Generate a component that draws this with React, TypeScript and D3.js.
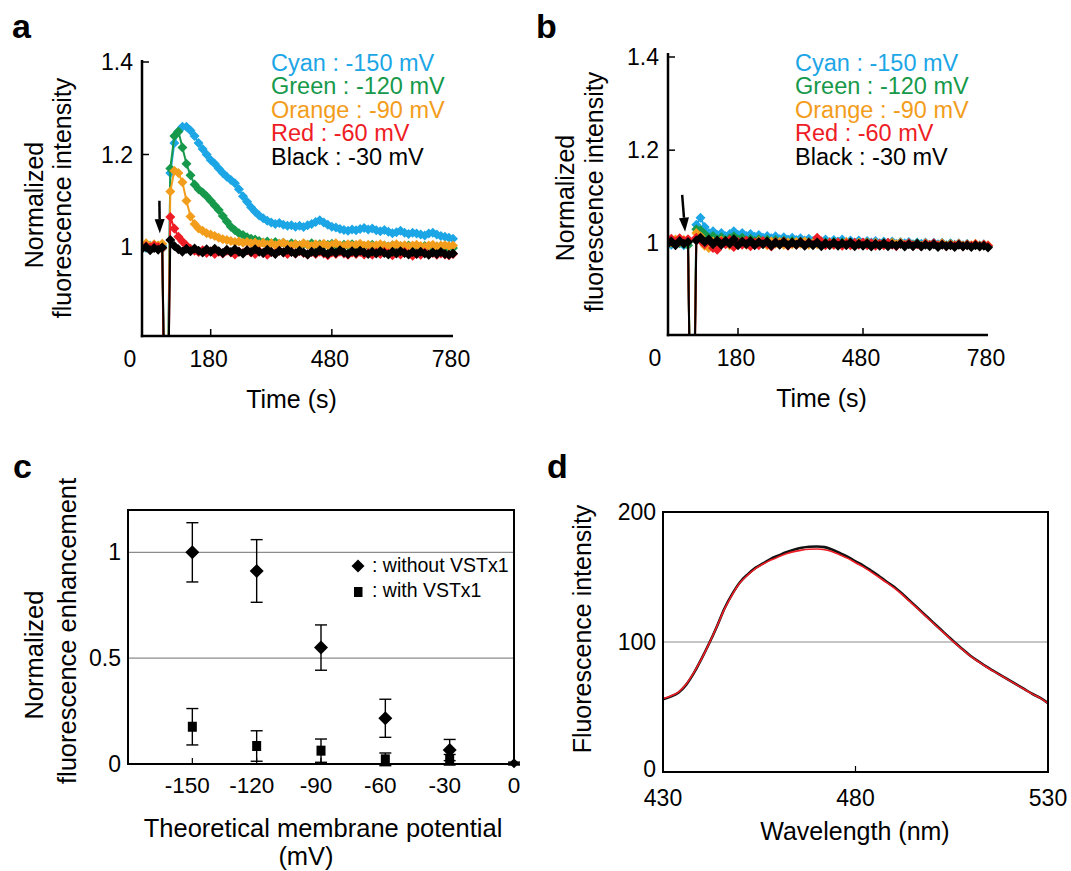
import React from "react";
import * as d3 from "d3";

const FONT = "'Liberation Sans', Arial, Helvetica, sans-serif";

// ---- panels a / b : time courses (s), normalized intensity ----
const times = [
  10, 20, 30, 40, 50, 60, 70, 80, 90, 100,
  110, 120, 130, 140, 150, 160, 170, 180, 190, 200,
  210, 220, 230, 240, 250, 260, 270, 280, 290, 300,
  310, 320, 330, 340, 350, 360, 370, 380, 390, 400,
  410, 420, 430, 440, 450, 460, 470, 480, 490, 500,
  510, 520, 530, 540, 550, 560, 570, 580, 590, 600,
  610, 620, 630, 640, 650, 660, 670, 680, 690, 700,
  710, 720, 730, 740, 750, 760, 770, 780,
];
const timeTicks = [0, 180, 480, 780];
const intensityTicks = [1, 1.2, 1.4];
const traceNames = ["Cyan : -150 mV", "Green : -120 mV", "Orange : -90 mV", "Red : -60 mV", "Black : -30 mV"];
const traceColors = ["#1ca6e6", "#16994a", "#f39d1c", "#ee1d25", "#000000"];

const cyanA = [
  1.0, 0.998, 1.003, 1.001, 0.997, 1.002, 0.4, 1.16, 1.225, 1.25,
  1.26, 1.26, 1.252, 1.24, 1.225, 1.212, 1.2, 1.188, 1.18, 1.17,
  1.16, 1.152, 1.145, 1.138, 1.125, 1.11, 1.098, 1.086, 1.076, 1.068,
  1.062, 1.057, 1.053, 1.05, 1.052, 1.048, 1.046, 1.047, 1.044, 1.046,
  1.043, 1.047, 1.05, 1.054, 1.058, 1.053, 1.048, 1.044, 1.042, 1.039,
  1.037, 1.035, 1.038, 1.036, 1.039, 1.041, 1.038, 1.04, 1.036, 1.034,
  1.037, 1.033, 1.03, 1.032, 1.035, 1.031, 1.028, 1.031, 1.029, 1.027,
  1.025, 1.029, 1.031, 1.027, 1.024, 1.022, 1.02, 1.018,
];
const greenA = [
  0.998, 1.001, 0.996, 1.0, 1.002, 0.997, 0.35, 1.17, 1.24, 1.25,
  1.215, 1.18, 1.155, 1.135, 1.125, 1.118, 1.11, 1.1, 1.09, 1.08,
  1.067, 1.055, 1.044, 1.036, 1.03, 1.026, 1.021, 1.018, 1.016, 1.013,
  1.01, 1.012, 1.008, 1.011, 1.007, 1.009, 1.005, 1.008, 1.006, 1.004,
  1.007, 1.005, 1.008, 1.004, 1.006, 1.003, 1.005, 1.007, 1.004, 1.002,
  1.005, 1.003, 1.006, 1.002, 1.004, 1.001, 1.003, 1.005, 1.002, 1.0,
  1.003, 1.001, 1.004, 0.999, 1.002, 1.0, 1.003, 0.999, 1.001, 0.998,
  1.002, 1.0, 0.997, 1.001, 0.999, 0.998, 1.0, 0.998,
];
const orangeA = [
  1.004, 1.008, 1.002, 1.006, 1.003, 1.007, 0.38, 1.12, 1.165, 1.16,
  1.14, 1.1, 1.066, 1.05, 1.04, 1.035, 1.03, 1.027, 1.024, 1.02,
  1.017, 1.015, 1.013, 1.011, 1.012, 1.009, 1.011, 1.008, 1.01, 1.006,
  1.009, 1.005, 1.008, 1.004, 1.007, 1.009, 1.005, 1.003, 1.006, 1.004,
  1.008, 1.005, 1.002, 1.006, 1.004, 1.007, 1.003, 1.005, 1.008, 1.004,
  1.002, 1.006, 1.003, 1.005, 1.007, 1.003, 1.005, 1.002, 1.004, 1.006,
  1.003, 1.001, 1.004, 1.006, 1.002, 1.004, 1.001, 1.003, 1.005, 1.002,
  1.0, 1.003, 1.005, 1.001, 1.003, 1.004, 1.002, 1.003,
];
const redA = [
  0.998, 1.002, 0.999, 1.003, 1.0, 0.998, 0.3, 1.065, 1.04, 1.022,
  1.012, 1.003, 0.996, 0.992, 0.989, 0.993, 0.987, 0.991, 0.985, 0.99,
  0.986, 0.992, 0.988, 0.984, 0.99, 0.987, 0.993, 0.988, 0.985, 0.991,
  0.987, 0.983, 0.989, 0.986, 0.992, 0.988, 0.985, 0.99, 0.986, 0.991,
  0.987, 0.984, 0.989, 0.985, 0.99, 0.986, 0.982, 0.988, 0.985, 0.99,
  0.986, 0.983, 0.988, 0.985, 0.989, 0.984, 0.987, 0.983, 0.988, 0.985,
  0.99, 0.986, 0.982, 0.987, 0.984, 0.989, 0.985, 0.981, 0.986, 0.983,
  0.988, 0.984, 0.987, 0.983, 0.986, 0.984, 0.982, 0.985,
];
const blackA = [
  0.996, 1.0, 0.993, 0.998, 0.994, 0.999, 0.42, 1.015, 1.002, 0.995,
  0.99, 0.996, 0.991, 0.997, 0.992, 0.988, 0.995, 0.99, 0.996, 0.991,
  0.987, 0.994, 0.989, 0.995, 0.99, 0.986, 0.993, 0.989, 0.995, 0.99,
  0.987, 0.994, 0.989, 0.985, 0.992, 0.988, 0.994, 0.989, 0.986, 0.992,
  0.988, 0.984, 0.99, 0.987, 0.993, 0.988, 0.985, 0.991, 0.987, 0.993,
  0.988, 0.985, 0.991, 0.987, 0.992, 0.988, 0.985, 0.99, 0.986, 0.991,
  0.987, 0.984, 0.99, 0.986, 0.991, 0.987, 0.984, 0.989, 0.985, 0.99,
  0.986, 0.983, 0.988, 0.985, 0.989, 0.985, 0.983, 0.986,
];

const cyanB = [
  1.0, 0.997, 1.004, 1.0, 0.996, 1.003, 0.35, 1.04, 1.055, 1.035,
  1.022, 1.026, 1.018, 1.022, 1.015, 1.02, 1.026, 1.018, 1.022, 1.016,
  1.02, 1.014, 1.018, 1.012, 1.016, 1.011, 1.015, 1.009, 1.013, 1.008,
  1.012, 1.007, 1.011, 1.006, 1.01, 1.005, 1.009, 1.004, 1.008, 1.003,
  1.007, 1.004, 1.008, 1.003, 1.006, 1.002, 1.006, 1.001, 1.005, 1.002,
  1.005, 1.0, 1.004, 1.001, 1.004, 0.999, 1.003, 1.0, 1.003, 0.998,
  1.002, 0.999, 1.002, 0.997, 1.001, 0.998, 1.001, 0.996, 1.0, 0.997,
  1.0, 0.996, 0.999, 0.995, 0.998, 0.996, 0.998, 0.995,
];
const greenB = [
  0.998, 1.002, 0.997, 1.001, 0.999, 0.996, 0.38, 1.03, 1.028, 1.02,
  1.012, 1.016, 1.009, 1.013, 1.007, 1.011, 1.015, 1.008, 1.012, 1.006,
  1.01, 1.005, 1.009, 1.004, 1.008, 1.003, 1.007, 1.002, 1.006, 1.001,
  1.005, 1.0, 1.004, 0.999, 1.003, 1.0, 1.004, 0.998, 1.002, 0.999,
  1.003, 0.998, 1.002, 0.999, 1.001, 0.997, 1.001, 0.998, 1.002, 0.997,
  1.0, 0.996, 1.0, 0.997, 1.001, 0.996, 0.999, 0.995, 0.999, 0.996,
  1.0, 0.995, 0.999, 0.996, 0.998, 0.994, 0.998, 0.995, 0.999, 0.994,
  0.998, 0.995, 0.997, 0.994, 0.997, 0.995, 0.996, 0.994,
];
const orangeB = [
  1.006, 1.002, 1.008, 1.003, 1.007, 1.004, 0.36, 1.022, 1.015, 0.995,
  0.99, 1.004, 0.998, 1.006, 1.0, 0.996, 1.005, 0.999, 1.004, 0.997,
  1.003, 0.998, 1.005, 1.0, 0.996, 1.004, 0.999, 1.003, 0.997, 1.002,
  0.998, 1.003, 0.999, 1.004, 0.997, 1.001, 0.998, 1.003, 0.999, 1.002,
  0.997, 1.001, 0.998, 1.003, 0.999, 0.996, 1.001, 0.998, 1.002, 0.997,
  1.001, 0.997, 1.0, 0.996, 1.001, 0.998, 1.002, 0.997, 1.0, 0.996,
  0.999, 0.995, 1.0, 0.997, 0.999, 0.996, 1.0, 0.995, 0.998, 0.996,
  0.999, 0.995, 0.998, 0.996, 0.999, 0.995, 0.997, 0.996,
];
const redB = [
  1.004, 1.01, 1.002, 1.011, 1.005, 1.009, 0.3, 1.012, 1.006, 0.998,
  1.006, 0.99, 0.986, 1.004, 0.998, 1.007, 0.992, 1.003, 0.997, 1.006,
  0.994, 1.002, 0.996, 1.005, 0.999, 0.993, 1.003, 0.998, 1.004, 0.995,
  1.001, 0.997, 1.003, 0.996, 1.002, 0.998, 1.012, 1.004, 0.996, 1.001,
  0.997, 1.002, 0.995, 1.0, 0.996, 1.001, 0.997, 1.002, 0.996, 1.0,
  0.995, 0.999, 0.996, 1.001, 0.997, 0.994, 0.999, 0.996, 1.0, 0.995,
  0.998, 0.994, 0.999, 0.996, 1.0, 0.995, 0.998, 0.994, 0.997, 0.995,
  0.998, 0.994, 0.997, 0.995, 0.998, 0.994, 0.997, 0.995,
];
const blackB = [
  0.998, 1.004, 0.996, 1.005, 0.999, 1.003, 0.32, 1.006, 1.012, 1.003,
  1.008, 0.998, 1.006, 0.997, 1.005, 0.999, 1.009, 0.996, 1.004, 0.998,
  1.005, 0.996, 1.003, 0.998, 1.004, 0.995, 1.002, 0.997, 1.003, 0.996,
  1.002, 0.997, 1.003, 0.995, 1.001, 0.996, 1.002, 0.994, 1.0, 0.996,
  1.001, 0.995, 1.0, 0.996, 1.002, 0.994, 0.999, 0.995, 1.0, 0.993,
  0.999, 0.995, 1.0, 0.994, 0.998, 0.995, 0.999, 0.993, 0.998, 0.994,
  0.999, 0.993, 0.997, 0.994, 0.998, 0.992, 0.997, 0.994, 0.996, 0.992,
  0.997, 0.993, 0.996, 0.992, 0.996, 0.993, 0.995, 0.991,
];

// ---- panel c ----
const potentials = [-150, -120, -90, -60, -30, 0];
const withoutMean = [1.0, 0.912, 0.55, 0.216, 0.066, 0.003];
const withoutErr = [0.14, 0.148, 0.107, 0.09, 0.05, 0.006];
const withMean = [0.176, 0.085, 0.063, 0.022, 0.02, 0.0];
const withErr = [0.086, 0.072, 0.055, 0.03, 0.025, 0.004];

// ---- panel d ----
const wavelengths = [
  430, 432, 434, 436, 438, 440, 442, 444, 446, 448,
  450, 452, 454, 456, 458, 460, 462, 464, 466, 468,
  470, 472, 474, 476, 478, 480, 482, 484, 486, 488,
  490, 492, 494, 496, 498, 500, 502, 504, 506, 508,
  510, 512, 514, 516, 518, 520, 522, 524, 526, 528, 530,
];
const spectrumBlack = [
  56, 58, 61, 67, 76, 87, 99, 112, 126, 137,
  146, 152, 157, 160.5, 164, 166.5, 169, 171, 172.5, 173.3,
  173.5, 173, 171, 168.3, 165.5, 162, 158.8, 155, 151, 146.5,
  142.5, 137.5, 132, 126.5, 121, 115.5, 110, 104.5, 99, 94,
  89, 85, 81, 77.5, 74, 70.5, 67, 63.5, 60, 57, 53,
];
const spectrumRed = [
  56.5, 58.5, 61.5, 67.5, 76.5, 87, 99, 112, 125.5, 136.5,
  145.5, 151.5, 156.5, 160, 163, 165.5, 167.8, 169.5, 170.7, 171.3,
  171.5, 171, 169.5, 167, 164.3, 161, 157.8, 154, 150, 145.8,
  141.7, 136.8, 131.4, 126, 120.5, 115, 109.6, 104.1, 98.7, 93.7,
  88.8, 84.7, 80.8, 77.2, 73.8, 70.3, 66.8, 63.3, 59.9, 56.8, 52.8,
];

const diamond = (r: number) => `M0,${-r}L${r},0L0,${r}L${-r},0Z`;

function TracePanel({ id, series, xRange, yRange, axisX, axisY, axisTop, axisEnd, arrow, legendX, legendY, titles }: any) {
  const x = d3.scaleLinear().domain([0, 780]).range(xRange);
  const y = d3.scaleLinear().domain([0.8, 1.4]).range(yRange);
  const line = d3
    .line<number>()
    .x((_, i) => x(times[i]))
    .y((d) => y(d));
  // arrow geometry
  const ax0 = x(arrow[0][0]);
  const ay0 = y(arrow[0][1]);
  const ax1 = x(arrow[1][0]);
  const ay1 = y(arrow[1][1]);
  const ang = Math.atan2(ay1 - ay0, ax1 - ax0);
  const hx = ax1 - 14 * Math.cos(ang);
  const hy = ay1 - 14 * Math.sin(ang);
  const px = -Math.sin(ang) * 5;
  const py = Math.cos(ang) * 5;
  return (
    <g>
      <defs>
        <clipPath id={id}>
          <rect x={axisX} y={axisTop - 20} width={axisEnd - axisX + 20} height={axisY - axisTop + 20} />
        </clipPath>
      </defs>
      <g clipPath={`url(#${id})`}>
        {series.map((vals: number[], k: number) => (
          <g key={k}>
            <path d={line(vals) as string} fill="none" stroke={traceColors[k]} strokeWidth={2} />
            {vals.map((v, i) =>
              v < 0.8 ? null : (
                <path key={i} d={diamond(5)} transform={`translate(${x(times[i])},${y(v)})`} fill={traceColors[k]} />
              )
            )}
          </g>
        ))}
      </g>
      {/* arrow */}
      <line x1={ax0} y1={ay0} x2={hx} y2={hy} stroke="#000" strokeWidth={2.5} />
      <path d={`M${ax1},${ay1}L${hx + px},${hy + py}L${hx - px},${hy - py}Z`} fill="#000" />
      {/* axes */}
      <line x1={axisX} y1={axisTop} x2={axisX} y2={axisY + 1.2} stroke="#000" strokeWidth={2.5} />
      <line x1={axisX - 1.2} y1={axisY} x2={axisEnd} y2={axisY} stroke="#000" strokeWidth={2.5} />
      {intensityTicks.map((t) => (
        <g key={t}>
          <line x1={axisX} x2={axisX + 7} y1={y(t)} y2={y(t)} stroke="#000" strokeWidth={1.5} />
          <text x={axisX - 9} y={y(t)} textAnchor="end" dominantBaseline="central" fontSize={23}>
            {t === 1 ? "1" : t.toFixed(1)}
          </text>
        </g>
      ))}
      {timeTicks.map((t) => (
        <g key={t}>
          {t > 0 && t < 780 ? (
            <line x1={x(t)} x2={x(t)} y1={axisY} y2={axisY - 7} stroke="#000" strokeWidth={1.5} />
          ) : null}
          <text x={x(t) - (t === 0 ? 8 : 2)} y={axisY + 31} textAnchor="middle" fontSize={23}>
            {t}
          </text>
        </g>
      ))}
      <text x={(xRange[0] + xRange[1]) / 2 - 4} y={axisY + 72} textAnchor="middle" fontSize={25}>
        Time (s)
      </text>
      {titles.map((tt: any, i: number) => (
        <text key={i} transform={`translate(${tt[0]},${tt[1]}) rotate(-90)`} textAnchor="middle" fontSize={25}>
          {tt[2]}
        </text>
      ))}
      {traceNames.map((n, i) => (
        <text key={n} x={legendX} y={legendY + i * 23.5} fill={traceColors[i]} fontSize={23.5}>
          {n}
        </text>
      ))}
    </g>
  );
}

function PanelC() {
  const x = d3.scaleLinear().domain([-180, 0]).range([128, 514]);
  const y = d3.scaleLinear().domain([0, 1.2]).range([764, 510]);
  const errBar = (cx: number, m: number, e: number, key: string) => (
    <g key={key} stroke="#000" strokeWidth={1.4}>
      <line x1={cx} x2={cx} y1={y(m + e)} y2={y(m - e)} />
      <line x1={cx - 6} x2={cx + 6} y1={y(m + e)} y2={y(m + e)} />
      <line x1={cx - 6} x2={cx + 6} y1={y(m - e)} y2={y(m - e)} />
    </g>
  );
  return (
    <g>
      {[0.5, 1].map((g) => (
        <line key={g} x1={x(-180)} x2={x(0)} y1={y(g)} y2={y(g)} stroke="#8c8c8c" strokeWidth={1.2} />
      ))}
      {potentials.slice(0, 5).map((p) => (
        <line key={p} x1={x(p)} x2={x(p)} y1={y(0)} y2={y(0) - 6} stroke="#000" strokeWidth={1.2} />
      ))}
      {potentials.map((p, i) => errBar(x(p), withoutMean[i], withoutErr[i], "a" + p))}
      {potentials.map((p, i) => errBar(x(p), withMean[i], withErr[i], "b" + p))}
      {potentials.map((p, i) => (
        <path key={"d" + p} d={diamond(p === 0 ? 5 : 7)} transform={`translate(${x(p)},${y(withoutMean[i])})`} fill="#000" />
      ))}
      {potentials.map((p, i) =>
        p === 0 ? null : (
          <rect key={"s" + p} x={x(p) - 4.5} y={y(withMean[i]) - 5} width={9} height={10} fill="#000" />
        )
      )}
      <rect x={128} y={510} width={386} height={254} fill="none" stroke="#000" strokeWidth={2} />
      {[0, 0.5, 1].map((t) => (
        <text key={t} x={121} y={y(t)} textAnchor="end" dominantBaseline="central" fontSize={23}>
          {t}
        </text>
      ))}
      {potentials.map((p) => (
        <text key={p} x={x(p) - (p === 0 ? 0 : 5)} y={793} textAnchor="middle" fontSize={22.5}>
          {p}
        </text>
      ))}
      <path d={diamond(6.5)} transform="translate(358,566)" fill="#000" />
      <text x={372} y={572} fontSize={19.5}>: without VSTx1</text>
      <rect x={354} y={587} width={8.5} height={10} fill="#000" />
      <text x={372} y={597} fontSize={19.5}>: with VSTx1</text>
      <text x={323} y={837} textAnchor="middle" fontSize={25.5}>Theoretical membrane potential</text>
      <text x={306} y={865} textAnchor="middle" fontSize={25.5}>(mV)</text>
      <text transform="translate(43,655) rotate(-90)" textAnchor="middle" fontSize={25.5}>Normalized</text>
      <text transform="translate(76,631) rotate(-90)" textAnchor="middle" fontSize={25.5}>fluorescence enhancement</text>
    </g>
  );
}

function PanelD() {
  const x = d3.scaleLinear().domain([430, 530]).range([663, 1048]);
  const y = d3.scaleLinear().domain([0, 200]).range([772, 512]);
  const line = d3
    .line<number>()
    .x((_, i) => x(wavelengths[i]))
    .y((d) => y(d))
    .curve(d3.curveMonotoneX);
  return (
    <g>
      <line x1={x(430)} x2={x(530)} y1={y(100)} y2={y(100)} stroke="#8c8c8c" strokeWidth={1.2} />
      <line x1={x(480)} x2={x(480)} y1={y(0)} y2={y(0) - 6} stroke="#000" strokeWidth={1.2} />
      <path d={line(spectrumBlack) as string} fill="none" stroke="#111" strokeWidth={2.6} />
      <path d={line(spectrumRed) as string} fill="none" stroke="#ee1d25" strokeWidth={1.6} />
      <rect x={663} y={512} width={385} height={260} fill="none" stroke="#000" strokeWidth={2} />
      {[0, 100, 200].map((t) => (
        <text key={t} x={656} y={y(t) - (t === 0 ? 3 : 0)} textAnchor="end" dominantBaseline="central" fontSize={23}>
          {t}
        </text>
      ))}
      {[430, 480, 530].map((t) => (
        <text key={t} x={x(t)} y={806} textAnchor="middle" fontSize={23}>
          {t}
        </text>
      ))}
      <text x={855} y={840} textAnchor="middle" fontSize={25}>Wavelength (nm)</text>
      <text transform="translate(591,629) rotate(-90)" textAnchor="middle" fontSize={25}>Fluorescence intensity</text>
    </g>
  );
}

export default function App() {
  return (
    <svg
      width={1071}
      height={871}
      style={{ position: "absolute", left: 0, top: 0, background: "#fff" }}
      fontFamily={FONT}
    >
      <rect width={1071} height={871} fill="#fff" />
      <TracePanel
        id="clipA"
        series={[cyanA, greenA, orangeA, redA, blackA]}
        xRange={[138, 453]}
        yRange={[339.5, 62]}
        axisX={142}
        axisY={336}
        axisTop={60}
        axisEnd={453}
        arrow={[[53, 1.1], [54, 1.03]]}
        legendX={271}
        legendY={70.5}
        titles={[[43, 205, "Normalized"], [71, 198, "fluorescence intensity"]]}
      />
      <TracePanel
        id="clipB"
        series={[cyanB, greenB, orangeB, redB, blackB]}
        xRange={[663, 988]}
        yRange={[336.5, 57]}
        axisX={668}
        axisY={335}
        axisTop={53}
        axisEnd={988}
        arrow={[[46, 1.104], [53, 1.025]]}
        legendX={795}
        legendY={70.5}
        titles={[[574, 198, "Normalized"], [603, 192, "fluorescence intensity"]]}
      />
      <PanelC />
      <PanelD />
      <g fontSize={34} fontWeight="bold">
        <text x={12} y={38}>a</text>
        <text x={536} y={38}>b</text>
        <text x={13} y={478}>c</text>
        <text x={547} y={478}>d</text>
      </g>
    </svg>
  );
}
